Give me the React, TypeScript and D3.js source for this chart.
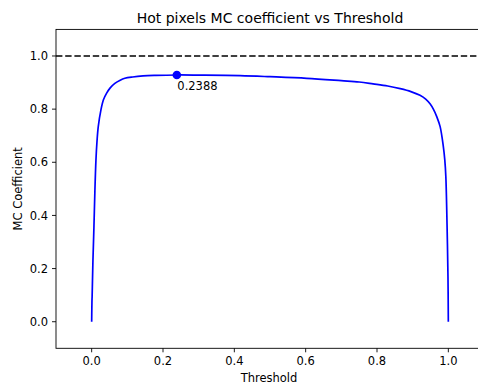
import React, { useEffect } from "react";
import * as d3 from "d3";

const thresholds = [0, 0.0005, 0.001, 0.0012, 0.0022, 0.0036, 0.0064, 0.009, 0.012, 0.015, 0.0185, 0.026, 0.033, 0.042, 0.052, 0.065, 0.08, 0.093, 0.115, 0.144, 0.18, 0.2388, 0.3, 0.416, 0.5, 0.603, 0.7, 0.75, 0.789, 0.83, 0.865, 0.895, 0.9206, 0.9365, 0.9487, 0.958, 0.9675, 0.977, 0.986, 0.99, 0.993, 0.9965, 0.999, 1.0];
const mcValues = [0, 0.05, 0.085, 0.09, 0.15, 0.232, 0.358, 0.49, 0.608, 0.68, 0.734, 0.797, 0.835, 0.86, 0.88, 0.897, 0.909, 0.916, 0.921, 0.925, 0.927, 0.9285, 0.928, 0.926, 0.922, 0.916, 0.907, 0.902, 0.895, 0.887, 0.877, 0.866, 0.852, 0.838, 0.82, 0.8, 0.772, 0.734, 0.659, 0.61, 0.546, 0.358, 0.169, 0];
const bestThreshold = 0.2388;
const bestMC = 0.9285;
const xTicks = [0.0, 0.2, 0.4, 0.6, 0.8, 1.0];
const yTicks = [0.0, 0.2, 0.4, 0.6, 0.8, 1.0];
const titleText = "Hot pixels MC coefficient vs Threshold";
const xLabel = "Threshold";
const yLabel = "MC Coefficient";

export default function App() {
  useEffect(() => {
    document.body.style.margin = "0";
  }, []);
  const W = 478, H = 389;
  const left = 56, right = 484, top = 29.4, bottom = 348.3;
  const x = d3.scaleLinear().domain([-0.1, 1.1]).range([left, right]);
  const y = d3.scaleLinear().domain([-0.1, 1.1]).range([bottom, top]);
  const pts = thresholds.map((t, i) => [t, mcValues[i]] as [number, number]);
  const line = d3.line<[number, number]>().x(d => x(d[0])).y(d => y(d[1])).curve(d3.curveCatmullRom.alpha(0.5));
  const font = "DejaVu Sans, sans-serif";
  const fs = 11.5;
  return (
    <svg width={W} height={H} style={{ display: "block" }} fontFamily={font}>
      <rect width={W} height={H} fill="white" />
      <defs>
        <clipPath id="plot">
          <rect x={left} y={top} width={right - left} height={bottom - top} />
        </clipPath>
      </defs>
      <g clipPath="url(#plot)">
        <line x1={left} x2={right} y1={y(1)} y2={y(1)} stroke="black" strokeWidth={1.7} strokeDasharray="6.4,2.8" />
        <path d={line(pts) || ""} fill="none" stroke="#0000ff" strokeWidth={1.7} />
        <circle cx={x(bestThreshold)} cy={y(bestMC)} r={4.3} fill="#0000ff" />
      </g>
      <text x={x(bestThreshold) + 0.5} y={y(bestMC) + 15.5} fontSize={fs} fill="black">{bestThreshold.toFixed(4)}</text>
      <rect x={left} y={top} width={right - left} height={bottom - top} fill="none" stroke="black" strokeWidth={0.9} />
      {xTicks.map(t => (
        <g key={"x" + t}>
          <line x1={x(t)} x2={x(t)} y1={bottom} y2={bottom + 4} stroke="black" strokeWidth={0.9} />
          <text x={x(t)} y={bottom + 17} fontSize={fs} textAnchor="middle" fill="black">{t.toFixed(1)}</text>
        </g>
      ))}
      {yTicks.map(t => (
        <g key={"y" + t}>
          <line x1={left - 4} x2={left} y1={y(t)} y2={y(t)} stroke="black" strokeWidth={0.9} />
          <text x={left - 8} y={y(t) + 4.1} fontSize={fs} textAnchor="end" fill="black">{t.toFixed(1)}</text>
        </g>
      ))}
      <text x={270} y={22.7} fontSize={14} textAnchor="middle" fill="black">{titleText}</text>
      <text x={269} y={382} fontSize={fs} textAnchor="middle" fill="black">{xLabel}</text>
      <text transform={`translate(22,${(top + bottom) / 2}) rotate(-90)`} fontSize={fs} textAnchor="middle" fill="black">{yLabel}</text>
    </svg>
  );
}
